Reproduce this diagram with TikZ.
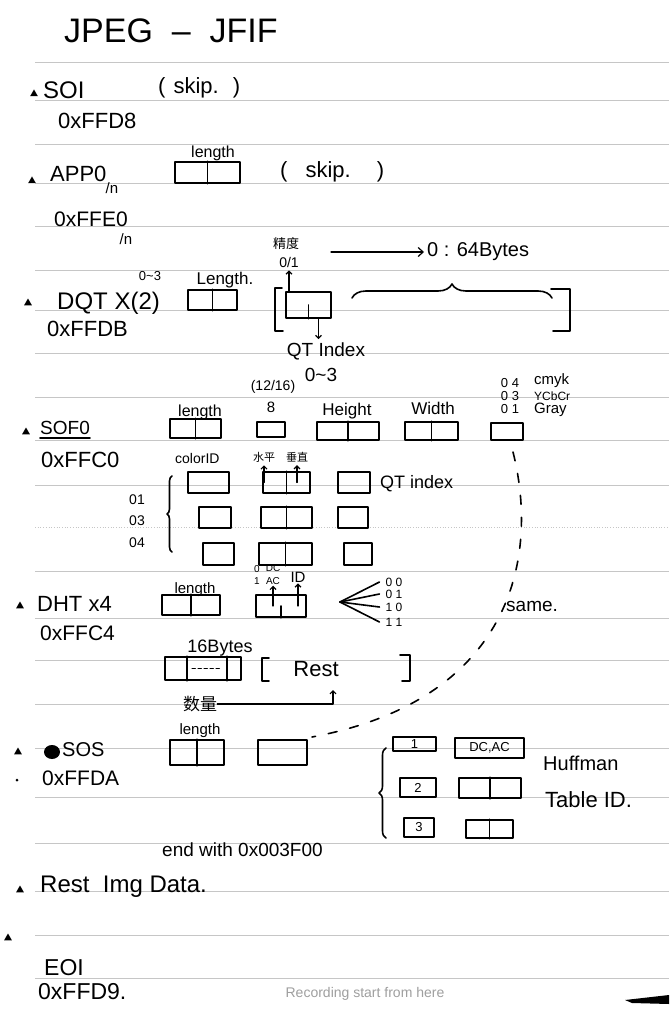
\documentclass[tikz,border=0pt]{standalone}
\usepackage{fontspec}
\setmainfont{Liberation Sans}
\newfontfamily\cjk{Noto Sans CJK SC}
\usepackage{tikz}
\usetikzlibrary{shapes.geometric , arrows.meta , decorations.pathreplacing}

\newcommand{\hsz}[1]{\fontsize{#1}{#1}\selectfont}

\tikzset{
    ink/.style = {line width=1.6pt , line cap=round , line join=round},
    cell/.style = {draw , ink , inner sep=0pt},
    txt/.style = {anchor=west , inner sep=0pt},
    lbl/.style = {inner sep=0pt},
    rule/.style = {gray!45 , line width=0.7pt},
    bullet/.style = {regular polygon , regular polygon sides=3 , fill , inner sep=0pt , minimum size=9pt},
    arr/.style = {ink , line width=1.2pt , -{Straight Barb[length=3pt , width=6pt]} , shorten >=3pt},
    samedash/.style = {ink , dash pattern=on 9pt off 13pt},
    hbrace/.style = {ink , decorate , decoration={brace , amplitude=#1}}
}

\begin{document}
\begin{tikzpicture}[x = 1pt , y = -1pt]
    \fill[white] (0,0) rectangle (669,1024);
    \useasboundingbox (0,0) rectangle (669,1024);

    % ruled paper
    \foreach \ly in {62,100,144,183,226,270,310,353,397,440,485,571,618,660,704,748,797,843,891,935,978}
        \draw[rule] (35,\ly) -- (669,\ly);
    \draw[rule , dotted] (35,527) -- (669,527);

    \node[txt , font=\hsz{34}] (title) at (64,31) {JPEG\ \ --\ \ JFIF};

    % SOI
    \node[bullet] (soiDot) at (34,94) {};
    \node[txt , font=\hsz{24}] (soi) at (43,90) {SOI};
    \node[txt , font=\hsz{22}] (soiSkip) at (158,88) {(\hspace{8pt}skip.\hspace{14pt})};
    \node[txt , font=\hsz{22}] (soiCode) at (58,121) {0xFFD8};

    % APP0
    \node[bullet] (appDot) at (32,181) {};
    \node[txt , font=\hsz{22}] (app) at (50,174) {APP0};
    \node[lbl , font=\hsz{15}] (appN) at (112,188) {/n};
    \node[cell , minimum width=65 , minimum height=21] (appLen) at (207.5,172.5) {};
    \draw[ink] (appLen.north) -- (appLen.south);
    \node[lbl , font=\hsz{16}] (appLenLbl) at (213,153) {length};
    \node[txt , font=\hsz{22}] (appSkip) at (280,172) {(\hspace{18pt}skip.\hspace{26pt})};
    \node[txt , font=\hsz{21}] (appCode) at (54,219) {0xFFE0};
    \node[lbl , font=\hsz{15}] (appCodeN) at (126,239) {/n};

    % DQT
    \node[bullet] (dqtDot) at (28,303) {};
    \node[txt , font=\hsz{24}] (dqt) at (57,303) {DQT X(2)};
    \node[lbl , font=\hsz{13}] (dqtRep) at (150,276) {0\textasciitilde 3};
    \node[txt , font=\hsz{22}] (dqtCode) at (47,329) {0xFFDB};
    \node[cell , minimum width=49 , minimum height=20] (dqtLen) at (212.5,300) {};
    \draw[ink] (dqtLen.north) -- (dqtLen.south);
    \node[lbl , font=\hsz{17}] (dqtLenLbl) at (225,280) {Length.};
    \draw[ink] (282,288) -- (275,288) -- (275,331) -- (283,331); % [
    \node[cell , minimum width=45 , minimum height=26] (dqtPq) at (308.5,305) {};
    \draw[ink] (dqtPq.center) -- (dqtPq.south);
    \node[lbl , font=\cjk\hsz{13}] (dqtPrecName) at (286,244) {精度};
    \node[lbl , font=\hsz{14}] (dqtPrec) at (289,262) {0/1};
    \draw[arr] (dqtPrec.south |- dqtPq.north) -- (dqtPrec.south);
    \coordinate (dqtArr) at (331,252);
    \node[txt , font=\hsz{20}] (dqtSize) at (427,252) {0 : 64Bytes};
    \draw[arr , -{Straight Barb[length=5pt , width=9pt]}] (dqtArr) -- (dqtSize.west);
    \node[lbl , font=\hsz{19}] (dqtIdx) at (326,351) {QT Index};
    \node[lbl , font=\hsz{19}] (dqtIdxR) at (321,375) {0\textasciitilde 3};
    \draw[arr] ([xshift=10pt]dqtPq.south) -- ([xshift=10pt]dqtPq.south |- dqtIdx.north);
    \draw[hbrace=14pt] (352,298) -- (552,298);
    \draw[ink] (551,289) -- (570,289) -- (570,331) -- (553,331); % ]

    % SOF0
    \node[bullet] (sofDot) at (26,432) {};
    \node[txt , font=\hsz{19}] (sof) at (40,428) {SOF0};
    \draw[ink] ([yshift=-3pt]sof.south west) -- ([yshift=-3pt]sof.south east);
    \node[txt , font=\hsz{22}] (sofCode) at (41,460) {0xFFC0};
    \node[cell , minimum width=51 , minimum height=19] (sofLen) at (195.5,428.5) {};
    \node[cell , minimum width=28 , minimum height=15] (sofBits) at (271,429.5) {};
    \node[cell , minimum width=62 , minimum height=18] (sofHt) at (348,431) {};
    \node[cell , minimum width=53 , minimum height=18] (sofWd) at (431.5,431) {};
    \node[cell , minimum width=32 , minimum height=17] (sofNc) at (507,431.5) {};
    \foreach \b in {sofLen,sofHt,sofWd}
        \draw[ink] (\b.north) -- (\b.south);
    \node[lbl , font=\hsz{16}] (sofLenLbl) at (200,412) {length};
    \node[lbl , font=\hsz{14}] (sofBitsAlt) at (273,387) {(12/16)};
    \node[lbl , font=\hsz{15}] (sofBitsLbl) at (271,407) {8};
    \node[lbl , font=\hsz{17}] (sofHtLbl) at (347,411) {Height};
    \node[lbl , font=\hsz{17}] (sofWdLbl) at (433,408) {Width};
    \node[lbl , font=\hsz{13}] (sofNc4) at (510,383) {0 4};
    \node[lbl , font=\hsz{13}] (sofNc3) at (510,396) {0 3};
    \node[lbl , font=\hsz{13}] (sofNc1) at (510,409) {0 1};
    \node[txt , font=\hsz{15}] (sofCmyk) at (534,381) {cmyk};
    \node[txt , font=\hsz{12}] (sofYcc) at (534,396) {YCbCr};
    \node[txt , font=\hsz{15}] (sofGray) at (534,410) {Gray};

    % components
    \node[txt , font=\hsz{14}] (cmpIdLbl) at (175,458) {colorID};
    \node[lbl , font=\cjk\hsz{11}] (cmpH) at (264,457) {水平};
    \node[lbl , font=\cjk\hsz{11}] (cmpV) at (297,457) {垂直};
    \node[cell , minimum width=41 , minimum height=21] (cmpA1) at (208.5,482.5) {};
    \node[cell , minimum width=47 , minimum height=21] (cmpB1) at (286.5,482.5) {};
    \node[cell , minimum width=32 , minimum height=21] (cmpC1) at (354,482.5) {};
    \node[cell , minimum width=32 , minimum height=21] (cmpA2) at (215,517.5) {};
    \node[cell , minimum width=51 , minimum height=21] (cmpB2) at (286.5,517.5) {};
    \node[cell , minimum width=30 , minimum height=21] (cmpC2) at (353,517.5) {};
    \node[cell , minimum width=31 , minimum height=22] (cmpA3) at (218.5,554) {};
    \node[cell , minimum width=53 , minimum height=22] (cmpB3) at (285.5,554) {};
    \node[cell , minimum width=28 , minimum height=22] (cmpC3) at (358,554) {};
    \foreach \b in {cmpB1,cmpB2,cmpB3}
        \draw[ink] (\b.north) -- (\b.south);
    \draw[arr] (cmpH.south |- cmpB1.center) -- (cmpH.south);
    \draw[arr] (cmpV.south |- cmpB1.center) -- (cmpV.south);
    \node[txt , font=\hsz{18}] (cmpQtLbl) at (380,484) {QT index};
    \draw[hbrace=5pt] (172,552) -- (172,476);
    \node[lbl , font=\hsz{14}] (cmp01) at (137,500) {01};
    \node[lbl , font=\hsz{14}] (cmp03) at (137,521) {03};
    \node[lbl , font=\hsz{14}] (cmp04) at (137,543) {04};

    % same
    \coordinate (sameTop) at (513,452);
    \coordinate (sameEnd) at (312,737);
    \draw[samedash] (sameTop) .. controls (540,560) and (510,700) .. (sameEnd);
    \node[txt , font=\hsz{19}] (same) at (506,606) {same.};

    % DHT
    \node[bullet] (dhtDot) at (20,606) {};
    \node[txt , font=\hsz{22}] (dht) at (37,604) {DHT x4};
    \node[txt , font=\hsz{21}] (dhtCode) at (40,633) {0xFFC4};
    \node[cell , minimum width=58 , minimum height=20] (dhtLen) at (191,605) {};
    \draw[ink] (dhtLen.north) -- (dhtLen.south);
    \node[lbl , font=\hsz{15}] (dhtLenLbl) at (195,590) {length};
    \node[cell , minimum width=50 , minimum height=22] (dhtTc) at (281,606) {};
    \draw[ink] (dhtTc.center) -- (dhtTc.south);
    \node[lbl , font=\hsz{10}] (dhtZero) at (257,569) {0};
    \node[lbl , font=\hsz{10}] (dhtDc) at (273,568) {DC};
    \node[lbl , font=\hsz{10}] (dhtOne) at (257,581) {1};
    \node[lbl , font=\hsz{10}] (dhtAc) at (273,581) {AC};
    \node[lbl , font=\hsz{15}] (dhtId) at (298,577) {ID};
    \draw[arr , shorten >=1pt] (dhtAc.south |- dhtTc.center) -- (dhtAc.south);
    \draw[arr , shorten >=1pt] (dhtId.south |- dhtTc.center) -- (dhtId.south);
    \coordinate (fanTip) at (340,602);
    \node[lbl , font=\hsz{12}] (tc00) at (394,582) {0 0};
    \node[lbl , font=\hsz{12}] (tc01) at (394,594) {0 1};
    \node[lbl , font=\hsz{12}] (tc10) at (394,607) {1 0};
    \node[lbl , font=\hsz{12}] (tc11) at (394,622) {1 1};
    \foreach \t in {tc00,tc01,tc10,tc11}
        \draw[ink] (fanTip) -- ([xshift=-6pt]\t.west);
    \node[cell , minimum width=76 , minimum height=23] (dhtCnt) at (203,668.5) {};
    \draw[ink] ([xshift=23pt]dhtCnt.north west) -- ([xshift=23pt]dhtCnt.south west);
    \draw[ink] ([xshift=-15pt]dhtCnt.north east) -- ([xshift=-15pt]dhtCnt.south east);
    \draw[ink , dash pattern=on 3pt off 3pt] ([xshift=28pt]dhtCnt.west) -- ([xshift=-20pt]dhtCnt.east);
    \node[lbl , font=\hsz{18}] (dhtCntLbl) at (220,648) {16Bytes};
    \draw[ink] (269,658) -- (262,658) -- (262,681) -- (269,681); % [
    \node[lbl , font=\hsz{22}] (dhtRest) at (316,669) {Rest};
    \draw[ink] (400,655) -- (410,655) -- (410,681) -- (402,681); % ]
    \node[lbl , font=\cjk\hsz{17}] (dhtNum) at (200,704) {数量};
    \coordinate (dhtTurn) at (333,704);
    \draw[arr , shorten >=0pt] (dhtNum.east) -- (dhtTurn) -- ++(0,-14);

    % SOS
    \node[bullet] (sosDot) at (18,752) {};
    \node[ellipse , fill , inner sep=0pt , minimum width=16pt , minimum height=14pt] (sosBlot) at (52,752) {};
    \node[txt , font=\hsz{20}] (sos) at (62,750) {SOS};
    \node[circle , fill , inner sep=0pt , minimum size=3pt] (sosPt) at (17,780) {};
    \node[txt , font=\hsz{21}] (sosCode) at (42,778) {0xFFDA};
    \node[cell , minimum width=54 , minimum height=25] (sosLen) at (197,752.5) {};
    \draw[ink] (sosLen.north) -- (sosLen.south);
    \node[lbl , font=\hsz{15}] (sosLenLbl) at (200,731) {length};
    \node[cell , minimum width=49 , minimum height=25] (sosNc) at (282.5,752.5) {};
    \draw[hbrace=7pt] (386,838) -- (386,748);
    \node[cell , font=\hsz{13} , minimum width=43 , minimum height=14] (sosC1) at (414.5,744) {1};
    \node[cell , font=\hsz{13} , minimum width=36 , minimum height=19] (sosC2) at (418,787.5) {2};
    \node[cell , font=\hsz{13} , minimum width=30 , minimum height=19] (sosC3) at (419,827.5) {3};
    \node[cell , font=\hsz{13} , minimum width=69 , minimum height=20] (sosT1) at (489.5,748) {DC,AC};
    \node[cell , minimum width=62 , minimum height=20] (sosT2) at (490,788) {};
    \node[cell , minimum width=47 , minimum height=18] (sosT3) at (489.5,829) {};
    \foreach \b in {sosT2,sosT3}
        \draw[ink] (\b.north) -- (\b.south);
    \node[txt , font=\hsz{20}] (huff) at (543,763) {Huffman};
    \node[txt , font=\hsz{22}] (huffId) at (545,800) {Table ID.};
    \node[txt , font=\hsz{19}] (sosEnd) at (162,850) {end with 0x003F00};

    % Rest / EOI
    \node[bullet] (restDot) at (20,890) {};
    \node[txt , font=\hsz{24}] (rest) at (40,887) {Rest\ \ Img Data.};
    \node[bullet] (eoiDot) at (8,938) {};
    \node[txt , font=\hsz{23}] (eoi) at (44,968) {EOI};
    \node[txt , font=\hsz{23}] (eoiCode) at (38,992) {0xFFD9.};
    \node[lbl , font=\hsz{14} , text=gray!75] (rec) at (365,994) {Recording start from here};
    \fill (625,1000) -- (669,995) -- (669,1004) -- (632,1003) -- cycle;
\end{tikzpicture}
\end{document}
